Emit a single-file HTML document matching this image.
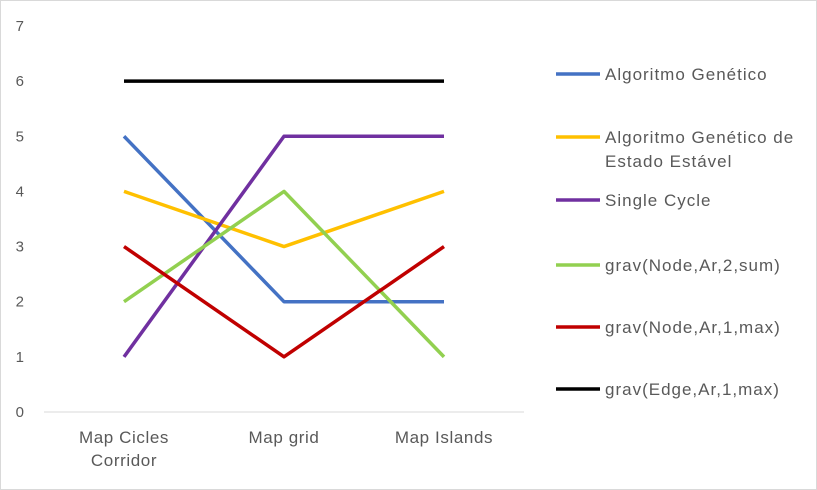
<!DOCTYPE html>
<html><head><meta charset="utf-8"><style>
body{margin:0;background:#fff}
svg{display:block;font-family:"Liberation Sans",Calibri,sans-serif}
</style></head><body>
<svg id="chart" width="817" height="490">
<rect x="0.5" y="0.5" width="816" height="489" fill="#fff" stroke="#d9d9d9"/>
</svg>
<script>
const categories=["Map Cicles|Corridor","Map grid","Map Islands"];
const yTicks=[0,1,2,3,4,5,6,7];
const seriesNames=["Algoritmo Genético","Algoritmo Genético de|Estado Estável","Single Cycle","grav(Node,Ar,2,sum)","grav(Node,Ar,1,max)","grav(Edge,Ar,1,max)"];
const sGenetic=[5,2,2];
const sSteady=[4,3,4];
const sSingle=[1,5,5];
const sGravSum=[2,4,1];
const sGravMax=[3,1,3];
const sEdge=[6,6,6];
const seriesValues=[sGenetic,sSteady,sSingle,sGravSum,sGravMax,sEdge];
const colors=["#4472C4","#FFC000","#7030A0","#92D050","#C00000","#000000"];
const svg=document.getElementById('chart');const NS="http://www.w3.org/2000/svg";
const y=v=>412-v*55.15;
const x=i=>124+i*160;
function mk(t,a,txt){const e=document.createElementNS(NS,t);for(const k in a)e.setAttribute(k,a[k]);if(txt!=null)e.textContent=txt;svg.appendChild(e);return e;}
yTicks.forEach(v=>{const e=mk('text',{x:24,y:y(v)+5,'text-anchor':'end','font-size':15,fill:'#595959'},v);

});
const ax=mk('line',{x1:44,x2:524,y1:412,y2:412,stroke:'#d9d9d9','stroke-width':1});


categories.forEach((c,i)=>{c.split('|').forEach((l,j)=>{const e=mk('text',{x:x(i),y:443+j*23,'text-anchor':'middle','font-size':17,'letter-spacing':0.6,fill:'#595959'},l);

});});
seriesValues.forEach((s,k)=>{const p=mk('polyline',{points:s.map((v,i)=>x(i)+','+y(v)).join(' '),fill:'none',stroke:colors[k],'stroke-width':3.5,'stroke-linejoin':'round'});

});
const ly=[74,137,200,265,327,389];
seriesNames.forEach((n,k)=>{const l=mk('line',{x1:556,x2:600,y1:ly[k],y2:ly[k],stroke:colors[k],'stroke-width':3.5});


n.split('|').forEach((t,j)=>{const e=mk('text',{x:605,y:ly[k]+6+j*24,'font-size':17,'letter-spacing':1,fill:'#595959'},t);

});});
</script>
</body></html>
